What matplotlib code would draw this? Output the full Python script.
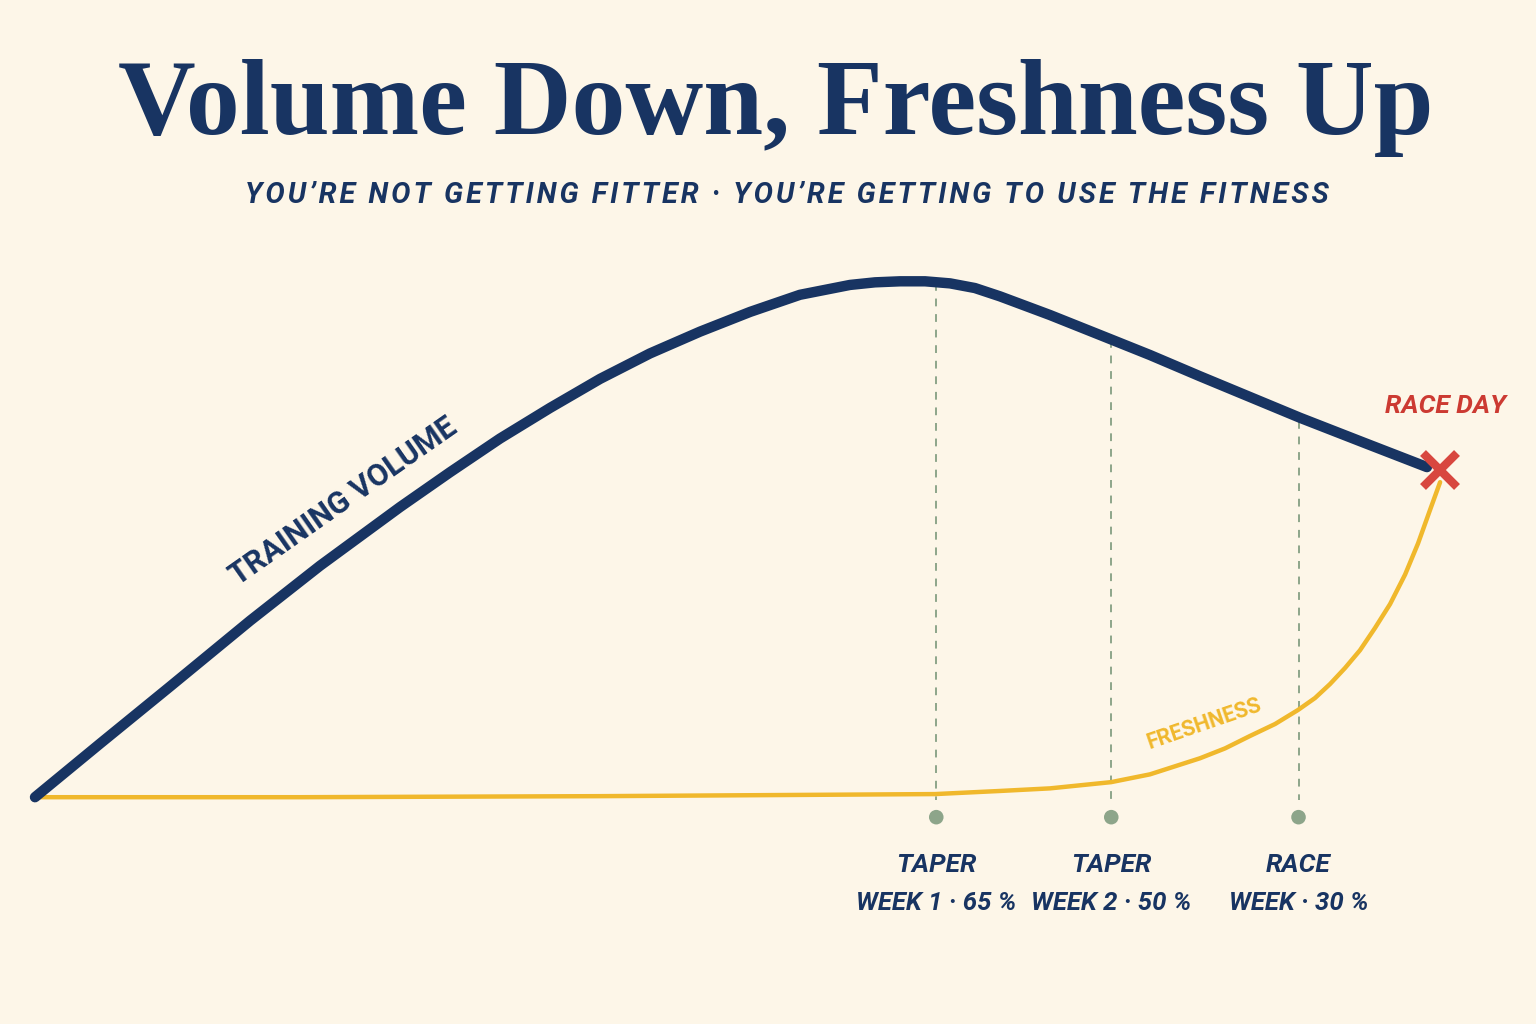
import matplotlib
matplotlib.use("Agg")
import matplotlib.pyplot as plt

# training weeks (x) and values in % of peak (y)
vol_weeks = [0, 0.371, 0.771, 1.229, 1.629, 2.086, 2.371, 2.657, 2.943, 3.229, 3.514,
             3.8, 4.086, 4.371, 4.657, 4.8, 4.943, 5.086, 5.229, 5.371, 5.514, 5.8,
             6.149, 6.371, 6.657, 6.943, 7.229, 7.594, 7.954]
volume = [0, 10.3, 21.3, 34.0, 44.6, 55.9, 62.6, 69.1, 75.0, 80.6, 85.5,
          89.7, 93.5, 96.8, 98.7, 99.2, 99.4, 99.4, 99.0, 98.1, 96.5, 92.9,
          88.2, 85.2, 81.1, 77.1, 73.1, 68.3, 63.6]

fresh_weeks = [0, 1.514, 3.229, 5.143, 5.514, 5.8, 6.149, 6.371, 6.657, 6.8, 6.943,
               7.086, 7.217, 7.314, 7.4, 7.486, 7.571, 7.657, 7.743, 7.829, 7.903,
               7.971, 8.029]
freshness = [0, 0, 0.2, 0.6, 1.2, 1.7, 2.9, 4.4, 7.5, 9.4, 11.8,
             14.1, 16.8, 19.1, 21.8, 24.9, 28.3, 32.6, 37.2, 42.9, 48.9,
             55.3, 60.7]

phase_weeks = [5.15, 6.15, 7.22]
phase_volume = [99.0, 88.1, 72.4]
phase_top = ["TAPER", "TAPER", "RACE"]
phase_bottom = ["WEEK 1 · 65 %", "WEEK 2 · 50 %", "WEEK · 30 %"]

race_week = 8.03
race_value = 63.0

bg = "#fdf6e8"
navy = "#183462"
gold = "#f0b82c"
sage = "#8da58a"
red = "#d8473f"

sans = ["Roboto", "DejaVu Sans"]

fig = plt.figure(figsize=(15.36, 10.24), dpi=100, facecolor=bg)
ax = fig.add_axes([0, 0, 1, 1])
ax.set_facecolor(bg)
ax.set_xlim(-0.2, 8.577)
ax.set_ylim(-43.7, 153.6)
ax.axis("off")

# dashed phase markers
for w, v in zip(phase_weeks, phase_volume):
    ax.plot([w, w], [v, -0.6], color=sage, lw=1.4, ls=(0, (4, 4)), zorder=1)
ax.scatter(phase_weeks, [-3.85] * 3, s=110, color=sage, zorder=2, edgecolors="none")

for w, t, b in zip(phase_weeks, phase_top, phase_bottom):
    ax.text(w, -13.1, t, ha="center", va="center", fontsize=19, color=navy,
            fontstyle="italic", fontweight="bold", family=sans)
    ax.text(w, -20.4, b, ha="center", va="center", fontsize=18.5, color=navy,
            fontstyle="italic", fontweight="bold", family=sans)

# curves
ax.plot(fresh_weeks, freshness, color=gold, lw=3.2, solid_capstyle="round",
        solid_joinstyle="round", zorder=3)
ax.plot(vol_weeks, volume, color=navy, lw=7.5, solid_capstyle="round",
        solid_joinstyle="round", zorder=4)

# race day
ax.plot([race_week], [race_value], marker="x", ms=24, mew=6, color=red, zorder=5)
ax.text(race_week + 0.03, 75.3, "RACE DAY", ha="center", va="center", fontsize=19,
        color="#cc3a32", fontstyle="italic", fontweight="bold", family=sans)

# curve labels
ax.text(1.76, 57.0, "TRAINING VOLUME", ha="center", va="center", fontsize=22,
        color=navy, rotation=35, fontweight="bold", family=sans,
        rotation_mode="anchor")
ax.text(6.68, 14.2, "FRESHNESS", ha="center", va="center", fontsize=15.5,
        color=gold, rotation=19, fontweight="bold", family=sans,
        rotation_mode="anchor")

# titles
fig.text(0.505, 1 - 108 / 1024, "Volume Down, Freshness Up", ha="center", va="center",
         fontsize=77.5, color=navy, fontweight="bold",
         family=["Liberation Serif", "DejaVu Serif"])
subtitle = "YOU’RE NOT GETTING FITTER · YOU’RE GETTING TO USE THE FITNESS"
fig.text(0.512, 1 - 195 / 1024, "\u200a".join(subtitle),
         ha="center", va="center", fontsize=20.8, color=navy, fontstyle="italic",
         fontweight="bold", family=sans)

fig.savefig("out.png", dpi=100, facecolor=bg)
